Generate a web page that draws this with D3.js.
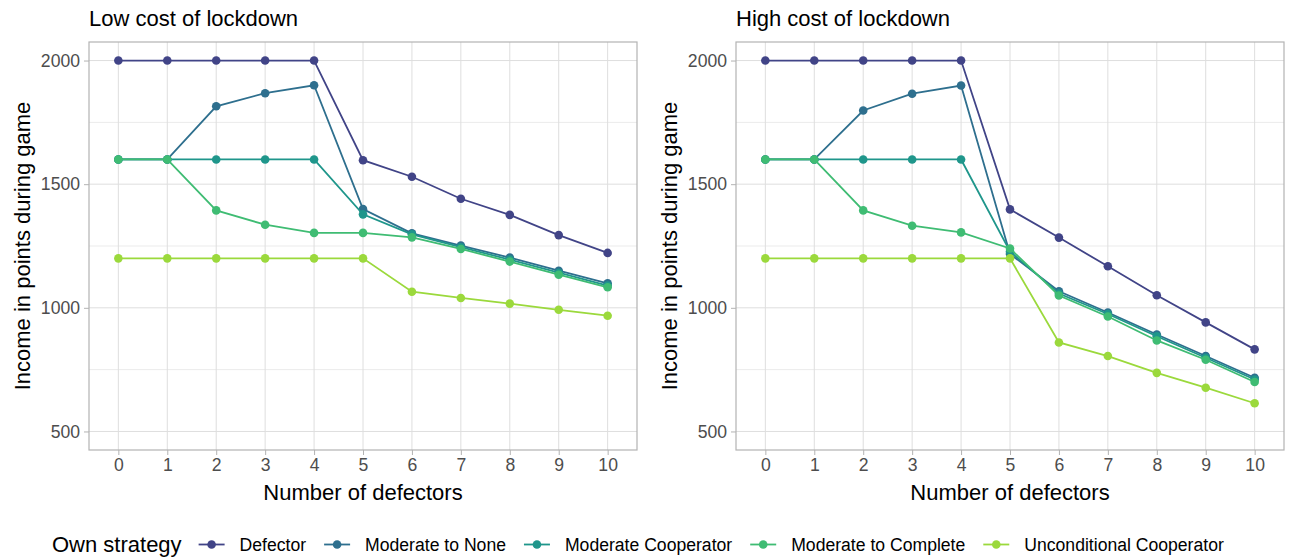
<!DOCTYPE html>
<html>
<head>
<meta charset="utf-8">
<script src="https://cdn.jsdelivr.net/npm/d3@7"></script>
<style>
  body { margin: 0; background: #fff; }
  svg text { font-family: "Liberation Sans", Arial, sans-serif; }
</style>
</head>
<body>
<svg id="chart" width="1295" height="557"></svg>
<script>
// data
var defectors = [0, 1, 2, 3, 4, 5, 6, 7, 8, 9, 10];
var strategies = ["Defector", "Moderate to None", "Moderate Cooperator", "Moderate to Complete", "Unconditional Cooperator"];
var panelTitles = ["Low cost of lockdown", "High cost of lockdown"];
var yTicks = [500, 1000, 1500, 2000];
var yMinor = [750, 1250, 1750];

var lowDefector    = [2000, 2000, 2000, 2000, 2000, 1597, 1530, 1441, 1376, 1294, 1222];
var lowModNone     = [1600, 1600, 1815, 1868, 1900, 1399, 1301, 1252, 1203, 1150, 1099];
var lowModCoop     = [1600, 1600, 1600, 1600, 1600, 1378, 1297, 1245, 1195, 1142, 1090];
var lowModComplete = [1600, 1600, 1394, 1336, 1303, 1303, 1285, 1238, 1187, 1134, 1083];
var lowUncond      = [1200, 1200, 1200, 1200, 1200, 1200, 1065, 1040, 1017, 992, 968];

var highDefector    = [2000, 2000, 2000, 2000, 2000, 1398, 1284, 1168, 1051, 941, 832];
var highModNone     = [1600, 1600, 1798, 1866, 1899, 1218, 1067, 981, 892, 805, 717];
var highModCoop     = [1600, 1600, 1600, 1600, 1600, 1228, 1058, 975, 885, 798, 710];
var highModComplete = [1600, 1600, 1394, 1332, 1305, 1240, 1050, 965, 868, 790, 700];
var highUncond      = [1200, 1200, 1200, 1200, 1200, 1200, 860, 805, 737, 677, 614];

var panels = [
    [lowDefector, lowModNone, lowModCoop, lowModComplete, lowUncond],
    [highDefector, highModNone, highModCoop, highModComplete, highUncond]
];

// viridis, trimmed at both ends like the original
var colors = [0.2, 0.3625, 0.525, 0.6875, 0.85].map(t => d3.interpolateViridis(t));

var svg = d3.select("#chart");
var panelLeft = [89, 736];
var panelW = 548, panelTop = 42, panelH = 408;

var y = d3.scaleLinear().domain([425, 2075]).range([panelTop + panelH, panelTop]);

panels.forEach(function(series, p) {
    var x0 = panelLeft[p];
    var x = d3.scaleLinear().domain([-0.6, 10.6]).range([x0, x0 + panelW]);
    var g = svg.append("g");

    // grid
    g.selectAll(".minor").data(yMinor).enter().append("line")
        .attr("x1", x0).attr("x2", x0 + panelW)
        .attr("y1", d => y(d)).attr("y2", d => y(d))
        .attr("stroke", "#ebebeb").attr("stroke-width", 1);
    g.selectAll(".major").data(yTicks).enter().append("line")
        .attr("x1", x0).attr("x2", x0 + panelW)
        .attr("y1", d => y(d)).attr("y2", d => y(d))
        .attr("stroke", "#dedede").attr("stroke-width", 1);
    g.selectAll(".vgrid").data(defectors).enter().append("line")
        .attr("x1", d => x(d)).attr("x2", d => x(d))
        .attr("y1", panelTop).attr("y2", panelTop + panelH)
        .attr("stroke", "#dedede").attr("stroke-width", 1);

    // border
    g.append("rect")
        .attr("x", x0).attr("y", panelTop).attr("width", panelW).attr("height", panelH)
        .attr("fill", "none").attr("stroke", "#b3b3b3").attr("stroke-width", 1.2);

    // axes
    var yAxis = g.append("g").attr("transform", "translate(" + x0 + ",0)")
        .call(d3.axisLeft(y).tickValues(yTicks).tickFormat(d3.format("d")).tickSize(5).tickPadding(4));
    var xAxis = g.append("g").attr("transform", "translate(0," + (panelTop + panelH) + ")")
        .call(d3.axisBottom(x).tickValues(defectors).tickSize(5).tickPadding(4));
    [yAxis, xAxis].forEach(function(a) {
        a.select(".domain").remove();
        a.selectAll(".tick line").attr("stroke", "#b3b3b3");
        a.selectAll(".tick text").attr("fill", "#4d4d4d").style("font-size", "17.6px")
            .style("font-family", "'Liberation Sans', Arial, sans-serif");
    });

    // titles
    g.append("text").attr("x", x0).attr("y", 26)
        .style("font-size", "22px").attr("fill", "#000").text(panelTitles[p]);
    g.append("text").attr("x", x0 + panelW / 2).attr("y", 500)
        .attr("text-anchor", "middle").style("font-size", "22px").text("Number of defectors");
    g.append("text")
        .attr("transform", "translate(" + (x0 - 59) + "," + (panelTop + panelH / 2) + ") rotate(-90)")
        .attr("text-anchor", "middle").style("font-size", "22px").text("Income in points during game");

    // lines and points
    var line = d3.line().x((d, i) => x(defectors[i])).y(d => y(d));
    series.forEach(function(vals, s) {
        g.append("path").datum(vals)
            .attr("d", line).attr("fill", "none")
            .attr("stroke", colors[s]).attr("stroke-width", 1.8);
        g.selectAll(".pt" + s).data(vals).enter().append("circle")
            .attr("cx", (d, i) => x(defectors[i])).attr("cy", d => y(d))
            .attr("r", 4.3).attr("fill", colors[s]);
    });
});

// legend, laid out left to right from measured text widths
var legend = svg.append("g");
var title = legend.append("text").attr("x", 52).attr("y", 552).style("font-size", "22px").text("Own strategy");
var cursor = 52 + title.node().getComputedTextLength() + 17;
strategies.forEach(function(name, i) {
    var k = legend.append("g").attr("transform", "translate(" + (cursor + 13) + ",544.5)");
    k.append("line").attr("x1", -13).attr("x2", 13).attr("stroke", colors[i]).attr("stroke-width", 1.8);
    k.append("circle").attr("r", 4.3).attr("fill", colors[i]);
    var t = legend.append("text").attr("x", cursor + 26 + 15).attr("y", 551)
        .style("font-size", "17.6px").text(name);
    cursor += 26 + 15 + t.node().getComputedTextLength() + 18;
});
</script>
</body>
</html>
